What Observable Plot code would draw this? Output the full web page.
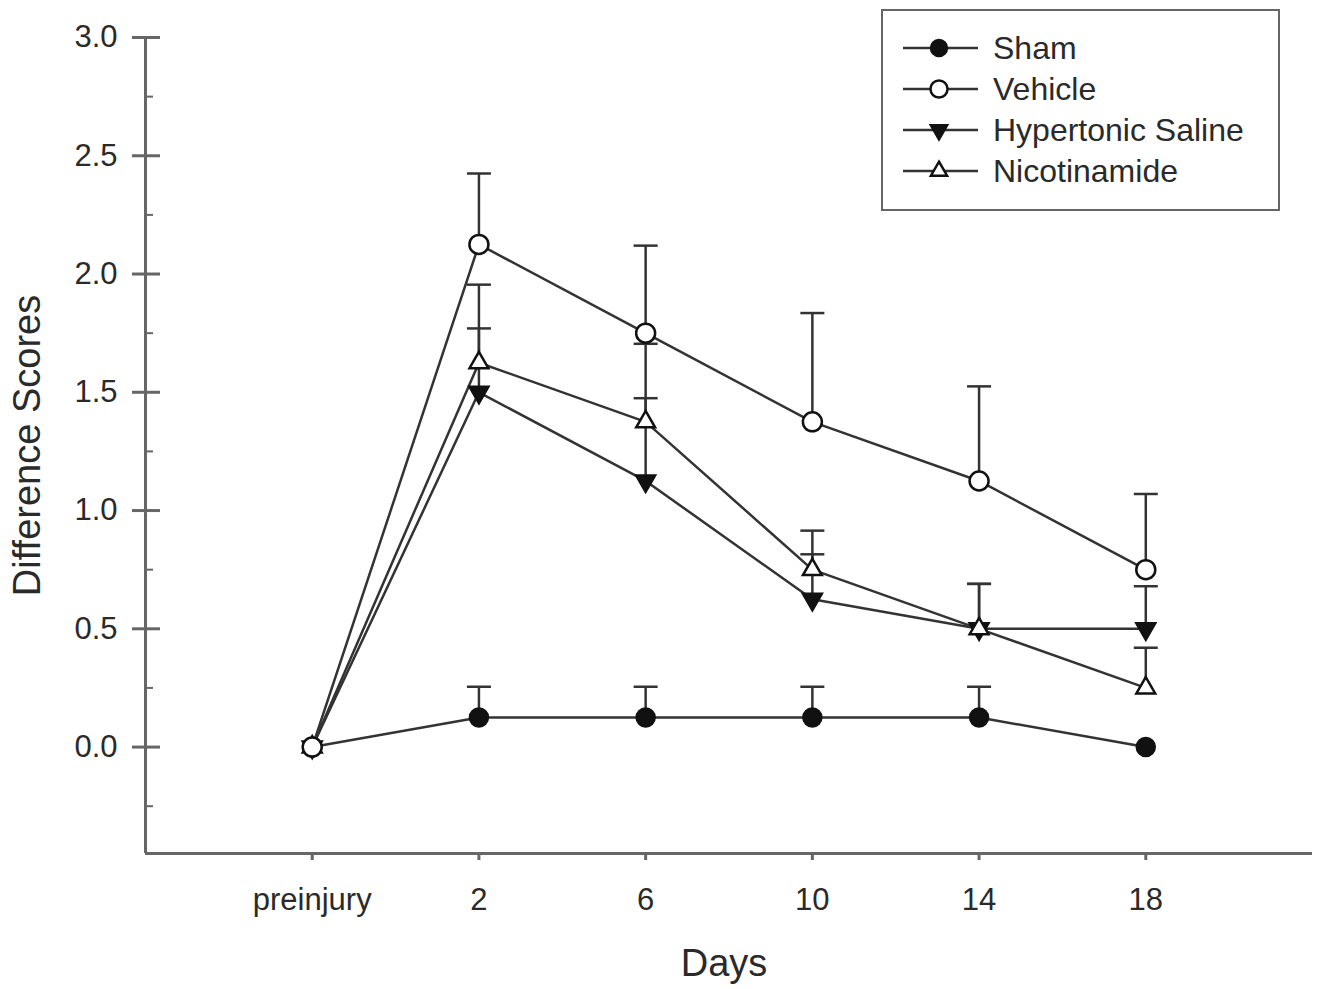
<!DOCTYPE html>
<html>
<head>
<meta charset="utf-8">
<script src="https://cdn.jsdelivr.net/npm/d3@7"></script>
<script src="https://cdn.jsdelivr.net/npm/@observablehq/plot@0.6"></script>
<style>
  body { margin: 0; background: #fff; font-family: "Liberation Sans", Arial, sans-serif; }
  #wrap { position: relative; width: 1321px; height: 989px; }
  #legend { position: absolute; left: 881px; top: 9px; width: 399px; height: 202px; box-sizing: border-box;
            border: 2px solid #666; background: #fff; }
  .row { position: absolute; left: 0; height: 40px; width: 100%; }
  .row svg { position: absolute; left: 19px; top: 0; }
  .row span { position: absolute; left: 110px; top: 0; line-height: 40px; font-size: 32px; color: #2a2a2a; white-space: nowrap; }
</style>
</head>
<body>
<div id="wrap"><div id="legend"></div></div>
<script>
// ---- data ----
const days = ["preinjury", "2", "6", "10", "14", "18"];
const seriesNames = ["Sham", "Vehicle", "Hypertonic Saline", "Nicotinamide"];
const sham            = [0, 0.125, 0.125, 0.125, 0.125, 0];
const shamErr         = [0, 0.13, 0.13, 0.13, 0.13, 0];
const vehicle         = [0, 2.125, 1.75, 1.375, 1.125, 0.75];
const vehicleErr      = [0, 0.30, 0.37, 0.46, 0.40, 0.32];
const hypertonic      = [0, 1.5, 1.125, 0.625, 0.5, 0.5];
const hypertonicErr   = [0, 0.27, 0.35, 0.19, 0.19, 0.18];
const nicotinamide    = [0, 1.625, 1.375, 0.75, 0.5, 0.25];
const nicotinamideErr = [0, 0.33, 0.33, 0.165, 0.19, 0.17];
const yMajor = [0, 0.5, 1.0, 1.5, 2.0, 2.5, 3.0];
const yMinor = [-0.25, 0.25, 0.75, 1.25, 1.75, 2.25, 2.75];

// ---- build table ----
const valueSets = [sham, vehicle, hypertonic, nicotinamide];
const errSets = [shamErr, vehicleErr, hypertonicErr, nicotinamideErr];
const rows = seriesNames.flatMap((name, s) =>
  valueSets[s].map((v, i) => ({series: name, i, v, e: errSets[s][i]})));
const errRows = rows.filter(d => d.e > 0);

const ink = "#2a2a2a";
const axisGray = "#666";
const capSymbol = {draw(ctx, size) { const w = Math.sqrt(size / Math.PI); ctx.moveTo(-w, 0); ctx.lineTo(w, 0); }};
const triDown = {draw(ctx, size) {
  const y = Math.sqrt(size / (Math.sqrt(3) * 3));
  ctx.moveTo(0, 2 * y); ctx.lineTo(-Math.sqrt(3) * y, -y); ctx.lineTo(Math.sqrt(3) * y, -y); ctx.closePath();
}};
const styles = {
  "Sham": {symbol: "circle", fill: "#111", r: 9},
  "Vehicle": {symbol: "circle", fill: "#fff", r: 9.5},
  "Hypertonic Saline": {symbol: triDown, fill: "#111", r: 7},
  "Nicotinamide": {symbol: "triangle", fill: "#fff", r: 7}
};
const drawOrder = ["Sham", "Hypertonic Saline", "Nicotinamide", "Vehicle"];

const chart = Plot.plot({
  width: 1321, height: 989,
  marginLeft: 145, marginRight: 9, marginTop: 37, marginBottom: 136,
  style: {fontFamily: "Liberation Sans, Arial, sans-serif", background: "white", color: ink},
  x: {type: "linear", domain: [-1, days.length]},
  y: {domain: [-0.45, 3.0]},
  marks: [
    Plot.ruleX([-1], {stroke: axisGray, strokeWidth: 3}),
    Plot.ruleY([-0.45], {stroke: axisGray, strokeWidth: 3}),
    Plot.axisY(yMajor, {tickSize: 0, tickPadding: 28, tickFormat: d => d.toFixed(1), fontSize: 31, fill: ink, label: null}),
    Plot.axisY(yMajor, {tickSize: 28, dx: 15, fill: "none", stroke: axisGray, strokeWidth: 3}),
    Plot.axisY(yMinor, {tickSize: 8, dx: 8, fill: "none", stroke: axisGray, strokeWidth: 2}),
    Plot.axisX(d3.range(days.length), {tickSize: 7, tickPadding: 27, tickFormat: i => days[i], fontSize: 31,
      stroke: axisGray, strokeWidth: 3, fill: ink, label: null}),
    Plot.text(["Difference Scores"], {text: d => d, frameAnchor: "left", textAnchor: "middle", rotate: -90,
      dx: -118, fontSize: 38, fill: ink}),
    Plot.text(["Days"], {text: d => d, frameAnchor: "bottom", dy: 122, dx: -5, fontSize: 38, fill: ink}),
    Plot.line(rows, {x: "i", y: "v", z: "series", stroke: "#333", strokeWidth: 2.5}),
    Plot.ruleX(errRows, {x: "i", y1: "v", y2: d => d.v + d.e, stroke: "#333", strokeWidth: 2.5}),
    Plot.dot(errRows, {x: "i", y: d => d.v + d.e, symbol: capSymbol, r: 12, stroke: "#333", strokeWidth: 2.5}),
    ...drawOrder.map(name => Plot.dot(rows.filter(d => d.series === name), {
      x: "i", y: "v", symbol: styles[name].symbol, r: styles[name].r,
      fill: styles[name].fill, stroke: "#111", strokeWidth: 2.5
    }))
  ]
});
document.getElementById("wrap").prepend(chart);

// ---- legend ----
const legend = d3.select("#legend");
seriesNames.forEach((name, k) => {
  const row = legend.append("div").attr("class", "row").style("top", `${17 + 41 * k}px`);
  const svg = row.append("svg").attr("width", 80).attr("height", 40);
  svg.append("line").attr("x1", 1).attr("x2", 76).attr("y1", 20).attr("y2", 20)
    .attr("stroke", "#333").attr("stroke-width", 2.5);
  const st = styles[name];
  const sym = typeof st.symbol === "string" ? (st.symbol === "circle" ? d3.symbolCircle : d3.symbolTriangle) : st.symbol;
  svg.append("path").attr("transform", "translate(37,20)")
    .attr("d", d3.symbol(sym, Math.PI * (st.r - 1) * (st.r - 1))())
    .attr("fill", st.fill).attr("stroke", "#111").attr("stroke-width", 2.5);
  row.append("span").text(name);
});
</script>
</body>
</html>
